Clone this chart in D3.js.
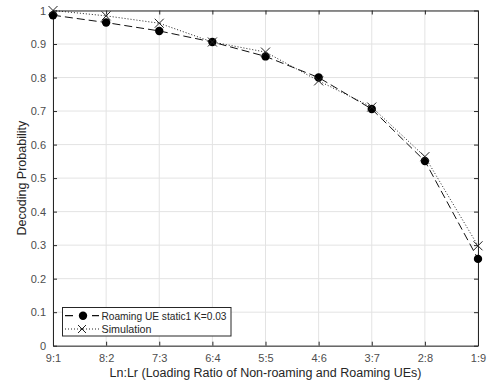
<!DOCTYPE html>
<html><head><meta charset="utf-8">
<script src="https://cdn.jsdelivr.net/npm/d3@7"></script>
<style>body{margin:0;background:#fff;} svg{display:block;font-family:"Liberation Sans",Arial,Helvetica,sans-serif;}</style>
</head><body>
<svg id="c" width="492" height="381"></svg>
<script>
const categories = ["9:1","8:2","7:3","6:4","5:5","4:6","3:7","2:8","1:9"];
const roamingValues = [0.986,0.964,0.939,0.906,0.863,0.800,0.706,0.551,0.259];
const simulationValues = [1.0,0.984,0.962,0.906,0.876,0.790,0.712,0.564,0.298];
const yTicks = [0,0.1,0.2,0.3,0.4,0.5,0.6,0.7,0.8,0.9,1];
const seriesNames = ["Roaming UE static1 K=0.03","Simulation"];
const xLabel = "Ln:Lr (Loading Ratio of Non-roaming and Roaming UEs)";
const yLabel = "Decoding Probability";

const svg = d3.select("#c");
const L=53, R=478, T=10.5, B=345.7;
const x = d3.scalePoint().domain(categories).range([L,R]);
const y = d3.scaleLinear().domain([0,1]).range([B,T]);
const axisColor="#262626", tickColor="#4d4d4d";

svg.append("rect").attr("x",L).attr("y",T).attr("width",R-L).attr("height",B-T).attr("fill","#fff");
// grid
const g = svg.append("g");
g.selectAll(".gx").data(categories).enter().append("line")
 .attr("x1",d=>x(d)).attr("x2",d=>x(d)).attr("y1",T).attr("y2",B)
 .attr("stroke","#e3e3e3").attr("stroke-width",1);
g.selectAll(".gy").data(yTicks).enter().append("line")
 .attr("y1",d=>y(d)).attr("y2",d=>y(d)).attr("x1",L).attr("x2",R)
 .attr("stroke","#e3e3e3").attr("stroke-width",1);

// axes
const xa = svg.append("g").attr("transform",`translate(0,${B})`)
 .call(d3.axisBottom(x).tickSizeInner(-4).tickSizeOuter(0).tickPadding(9));
const xt = svg.append("g").attr("transform",`translate(0,${T})`)
 .call(d3.axisTop(x).tickSizeInner(-4).tickSizeOuter(0).tickFormat(""));
const ya = svg.append("g").attr("transform",`translate(${L},0)`)
 .call(d3.axisLeft(y).tickValues(yTicks).tickSizeInner(-4).tickSizeOuter(0).tickPadding(7).tickFormat(d=>d===0||d===1?String(d):d3.format(".1f")(d)));
const yr = svg.append("g").attr("transform",`translate(${R},0)`)
 .call(d3.axisRight(y).tickValues(yTicks).tickSizeInner(-4).tickSizeOuter(0).tickFormat(""));
[xa,xt,ya,yr].forEach(a=>{
  a.select(".domain").attr("stroke",axisColor).attr("stroke-width",1);
  a.selectAll(".tick line").attr("stroke",axisColor);
  a.selectAll(".tick text").attr("fill",tickColor).attr("font-size",11).attr("font-family","Liberation Sans, Arial, sans-serif");
});

// lines
const line = (vals)=>d3.line().x((d,i)=>x(categories[i])).y(d=>y(d))(vals);
svg.append("path").attr("d",line(simulationValues)).attr("fill","none")
 .attr("stroke","#222").attr("stroke-width",1).attr("stroke-dasharray","1,2");
svg.append("path").attr("d",line(roamingValues)).attr("fill","none")
 .attr("stroke","#111").attr("stroke-width",1).attr("stroke-dasharray","8,4");

svg.selectAll(".dot").data(roamingValues).enter().append("circle")
 .attr("cx",(d,i)=>x(categories[i])).attr("cy",d=>y(d)).attr("r",4.2).attr("fill","#000");
const cross = (sel,cx,cy,s)=>{
  sel.append("path").attr("d",`M${cx-s},${cy-s}L${cx+s},${cy+s}M${cx-s},${cy+s}L${cx+s},${cy-s}`)
   .attr("stroke","#222").attr("stroke-width",1).attr("fill","none");
};
simulationValues.forEach((v,i)=>cross(svg,x(categories[i]),y(v),4.5));

// legend
const lg = svg.append("g");
lg.append("rect").attr("x",62.5).attr("y",307.5).attr("width",168.5).attr("height",28.5)
 .attr("fill","#fff").attr("stroke",axisColor).attr("stroke-width",1);
const ly1=315.7, ly2=329;
lg.append("path").attr("d",`M65,${ly1}H73M92,${ly1}H99`).attr("stroke","#111").attr("stroke-width",1.2);
lg.append("circle").attr("cx",83).attr("cy",ly1).attr("r",4.2).attr("fill","#000");
lg.append("line").attr("x1",65).attr("x2",99).attr("y1",ly2).attr("y2",ly2)
 .attr("stroke","#222").attr("stroke-dasharray","1,2");
cross(lg,82,ly2,4);
lg.append("text").attr("x",101.5).attr("y",ly1+4).text(seriesNames[0]).attr("font-size",11)
 .attr("textLength",125).attr("lengthAdjust","spacingAndGlyphs").attr("fill","#262626");
lg.append("text").attr("x",101.5).attr("y",ly2+4).text(seriesNames[1]).attr("font-size",11)
 .attr("textLength",50).attr("lengthAdjust","spacingAndGlyphs").attr("fill","#262626");

// labels
svg.append("text").attr("x",(L+R)/2).attr("y",377).attr("text-anchor","middle")
 .attr("font-size",12.5).attr("fill","#262626").text(xLabel);
svg.append("text").attr("transform",`translate(26,${(T+B)/2}) rotate(-90)`).attr("text-anchor","middle")
 .attr("font-size",12.5).attr("fill","#262626").text(yLabel);
</script>
</body></html>
